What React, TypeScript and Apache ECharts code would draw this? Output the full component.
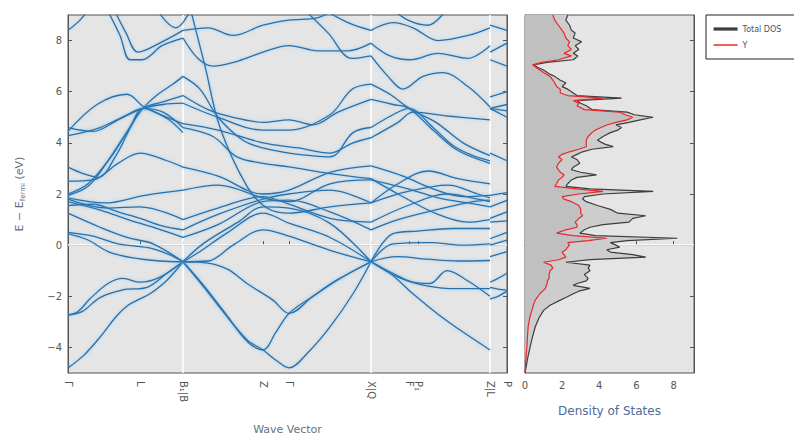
import React, { useEffect, useRef } from "react";
import * as echarts from "echarts";

// k-path positions (distance along path) and labels
const kTicks = [0, 72, 115, 195, 221, 303, 341, 350, 422, 439];
const kLabels = ["Γ", "L", "B₁|B", "Z", "Γ", "X|Q", "F", "P₁", "Z|L", "P"];
const breakK = [115, 303, 422];
const energyTicks = [-4, -2, 0, 2, 4, 6, 8];
const dosTicks = [0, 2, 4, 6, 8];

// Bands, segment Γ–L–B1
const bandsA: number[][][] = [
  [[0, -4.8], [16, -4.3], [32, -3.6], [48, -2.8], [60, -2.35], [72, -2.1], [82, -1.9], [99, -1.37], [115, -0.65]],
  [[0, -2.75], [10, -2.6], [22, -2.1], [40, -1.5], [55, -1.3], [72, -1.45], [92, -1.25], [115, -0.65]],
  [[0, -2.72], [14, -2.6], [32, -2.05], [55, -1.75], [79, -1.65], [99, -1.1], [115, -0.65]],
  [[0, 0.45], [20, 0.2], [40, -0.25], [65, -0.5], [92, -0.62], [115, -0.65]],
  [[0, 0.5], [25, 0.35], [50, 0.05], [80, -0.1], [100, -0.35], [115, -0.65]],
  [[0, 1.25], [32, 0.7], [59, 0.3], [85, 0.05], [115, -0.65]],
  [[0, 1.55], [25, 1.6], [50, 1.3], [72, 1.05], [94, 0.75], [115, 0.6]],
  [[0, 1.7], [34, 1.35], [60, 1.0], [85, 0.7], [115, 0.3]],
  [[0, 1.85], [37, 1.65], [77, 1.95], [115, 2.15]],
  [[0, 1.95], [20, 2.3], [40, 3.3], [60, 4.5], [75, 5.35], [90, 5.9], [105, 6.3], [115, 6.6]],
  [[0, 2.0], [20, 2.4], [42, 3.4], [62, 4.6], [75, 5.35], [95, 5.2], [115, 4.6]],
  [[0, 3.05], [15, 2.8], [30, 2.65], [48, 3.5], [65, 4.8], [75, 5.35], [95, 5.6], [115, 5.85]],
  [[0, 4.28], [32, 4.6], [59, 5.1], [75, 5.35], [99, 4.95], [115, 4.4]],
  [[0, 4.45], [29, 5.5], [59, 5.9], [76, 5.4], [99, 5.0], [115, 4.75]],
  [[0, 4.6], [25, 4.45], [50, 4.9], [75, 5.35], [95, 5.5], [115, 5.55]],
  [[0, 2.5], [25, 2.55], [50, 3.2], [72, 3.6], [99, 3.3], [115, 3.05]],
  [[0, 8.4], [12, 8.8], [22, 9.3]],
  [[38, 9.3], [52, 8.2], [62, 7.25], [74, 7.25], [94, 7.8], [115, 8.1]],
  [[45, 9.3], [58, 8.3], [70, 7.55], [94, 7.95], [115, 8.4]],
  [[88, 9.3], [98, 8.75], [108, 8.5], [115, 8.7]],
  [[0, 1.8], [40, 1.45], [72, 1.5], [115, 1.0]],
];

// Bands, segment B–Z–Γ–X
const bandsB: number[][][] = [
  [[115, -0.65], [135, -1.6], [155, -2.6], [179, -3.7], [195, -4.1], [208, -4.5], [221, -4.8], [240, -4.2], [262, -3.2], [285, -1.9], [303, -0.65]],
  [[115, -0.65], [135, -1.55], [157, -2.65], [180, -3.8], [195, -4.1], [208, -3.4], [221, -2.67], [245, -2.0], [269, -1.37], [303, -0.65]],
  [[115, -0.65], [140, -0.7], [160, -0.95], [179, -1.5], [205, -2.15], [221, -2.67], [245, -2.0], [269, -1.37], [303, -0.65]],
  [[115, -0.65], [140, -0.62], [165, 0.0], [195, 0.6], [221, 0.35], [262, -0.2], [303, -0.65]],
  [[115, -0.65], [130, -0.3], [160, 0.5], [195, 1.25], [221, 0.86], [262, 0.3], [303, -0.65]],
  [[115, -0.65], [135, 0.05], [170, 0.9], [195, 1.5], [221, 1.45], [262, 0.85], [303, -0.65]],
  [[115, 0.3], [150, 0.8], [195, 1.7], [221, 1.76], [262, 1.3], [303, 0.6]],
  [[115, 0.6], [150, 1.2], [195, 1.8], [221, 2.0], [262, 2.15], [303, 1.65]],
  [[115, 1.0], [150, 1.45], [195, 1.9], [221, 1.6], [262, 1.05], [303, 0.9]],
  [[115, 2.15], [150, 2.35], [195, 1.85], [221, 1.7], [262, 2.4], [303, 2.55]],
  [[115, 3.05], [150, 2.7], [195, 2.0], [221, 2.15], [262, 2.85], [303, 3.1]],
  [[115, 4.6], [145, 4.25], [169, 3.45], [195, 3.2], [221, 3.06], [262, 2.8], [303, 2.6]],
  [[115, 5.55], [150, 5.0], [195, 4.5], [221, 4.5], [262, 5.1], [284, 6.1], [303, 6.3]],
  [[122, 9.3], [137, 7.0], [152, 4.6], [179, 2.3], [199, 1.45], [221, 1.25], [262, 1.5], [303, 1.65]],
  [[115, 6.6], [132, 6.1], [150, 5.0], [175, 4.1], [195, 3.8], [221, 3.6], [262, 3.45], [285, 4.4], [303, 4.6]],
  [[115, 5.85], [140, 5.3], [165, 5.0], [195, 4.8], [221, 4.9], [245, 4.7], [270, 5.2], [303, 5.7]],
  [[115, 8.1], [130, 7.3], [145, 7.0], [170, 7.2], [195, 7.55], [221, 7.8], [250, 7.6], [280, 7.6], [303, 7.9]],
  [[115, 8.4], [140, 8.5], [165, 8.2], [195, 8.6], [221, 8.8], [250, 8.9], [270, 9.3]],
  [[234, 9.3], [260, 8.3], [284, 7.3], [303, 7.4]],
  [[252, 9.3], [280, 8.7], [303, 8.4]],
  [[115, 8.7], [125, 9.3]],
  [[115, 4.75], [150, 4.5], [195, 4.0], [230, 3.8], [262, 3.6], [285, 4.0], [303, 4.2]],
];

// Bands, segment Q–F–P1–Z
const bandsC: number[][][] = [
  [[303, -0.65], [322, -1.1], [345, -1.9], [370, -2.7], [395, -3.4], [422, -4.1]],
  [[303, -0.65], [325, -1.1], [345, -1.45], [362, -1.5], [379, -1.0], [400, -1.4], [422, -2.0]],
  [[303, -0.65], [330, -1.25], [360, -1.6], [390, -1.7], [422, -1.7]],
  [[303, -0.65], [329, -0.45], [360, -0.55], [390, -0.62], [422, -0.6]],
  [[303, -0.65], [325, 0.05], [362, 0.1], [395, 0.0], [422, 0.05]],
  [[303, -0.65], [325, 0.45], [350, 0.55], [385, 0.65], [422, 0.65]],
  [[303, 0.6], [330, 1.0], [370, 1.4], [405, 1.7], [422, 1.76]],
  [[303, 0.9], [340, 1.55], [380, 2.0], [410, 1.8], [422, 1.7]],
  [[303, 1.65], [340, 2.1], [380, 2.35], [410, 2.0], [422, 1.85]],
  [[303, 2.55], [340, 2.2], [370, 1.85], [400, 1.65], [422, 1.5]],
  [[303, 3.1], [335, 2.7], [365, 2.2], [395, 1.9], [422, 1.95]],
  [[303, 2.6], [330, 2.0], [370, 1.2], [400, 0.9], [422, 1.0]],
  [[303, 4.6], [325, 5.1], [341, 5.35], [365, 4.6], [385, 3.9], [405, 3.5], [422, 3.3]],
  [[303, 5.7], [325, 5.5], [341, 5.35], [365, 4.5], [390, 3.7], [422, 3.2]],
  [[303, 6.3], [322, 5.9], [341, 5.35], [368, 4.8], [395, 4.0], [422, 3.5]],
  [[303, 4.2], [330, 4.8], [345, 5.2], [380, 5.05], [422, 4.9]],
  [[303, 7.4], [320, 6.6], [335, 6.1], [355, 6.6], [375, 6.75], [400, 6.2], [422, 5.4]],
  [[303, 7.9], [322, 7.4], [342, 7.25], [370, 7.5], [400, 7.3], [422, 7.8]],
  [[303, 8.4], [325, 8.7], [345, 8.5], [370, 8.0], [400, 8.2], [422, 8.5]],
  [[303, 1.65], [330, 2.4], [360, 2.9], [390, 2.6], [422, 2.4]],
  [[322, 9.3], [340, 8.8], [360, 8.6], [380, 9.3]],
];

// Bands, segment L–P
const bandsD: number[][][] = [
  [[422, -2.1], [430, -2.0], [439, -1.8]],
  [[422, -1.45], [430, -1.3], [439, -1.1]],
  [[422, -1.65], [430, -1.72], [439, -1.76]],
  [[422, -0.45], [439, -0.25]],
  [[422, 0.0], [439, 0.2]],
  [[422, 0.25], [439, 0.5]],
  [[422, 0.9], [439, 0.95]],
  [[422, 1.05], [439, 1.3]],
  [[422, 1.5], [439, 1.75]],
  [[422, 1.95], [439, 2.05]],
  [[422, 3.6], [439, 3.3]],
  [[422, 5.35], [439, 5.25]],
  [[422, 5.35], [439, 5.5]],
  [[422, 5.35], [439, 5.0]],
  [[422, 5.8], [439, 6.0]],
  [[422, 7.25], [439, 7.0]],
  [[422, 7.55], [439, 7.9]],
  [[422, 8.6], [439, 8.4]],
];

// Density of states
const dosEnergy = [
  9.0, 8.8, 8.6, 8.4, 8.3, 8.1, 7.95, 7.8, 7.65, 7.5,
  7.4, 7.25, 7.15, 7.05, 6.95, 6.85, 6.7, 6.6, 6.45, 6.35,
  6.2, 6.1, 5.95, 5.85, 5.75, 5.65, 5.55, 5.45, 5.3, 5.2,
  5.1, 5.0, 4.9, 4.8, 4.7, 4.6, 4.5, 4.4, 4.25, 4.1,
  3.95, 3.85, 3.75, 3.65, 3.55, 3.45, 3.35, 3.2, 3.05, 2.95,
  2.85, 2.75, 2.65, 2.55, 2.4, 2.3, 2.2, 2.1, 2.0, 1.9,
  1.8, 1.7, 1.55, 1.4, 1.25, 1.15, 1.05, 0.9, 0.8, 0.7,
  0.6, 0.47, 0.37, 0.27, 0.18, 0.1, 0.0, -0.08, -0.18, -0.27,
  -0.37, -0.47, -0.57, -0.67, -0.78, -0.9, -1.0, -1.15, -1.3, -1.4,
  -1.5, -1.57, -1.69, -1.8, -1.9, -2.05, -2.15, -2.35, -2.55, -2.85,
  -3.2, -3.6, -4.0, -4.4, -4.8, -5.0,
];
const dosTotal = [
  2.3, 2.2, 2.4, 2.5, 2.7, 2.6, 3.05, 2.7, 2.9, 2.6,
  2.85, 2.6, 1.2, 0.45, 0.7, 1.0, 1.3, 1.6, 1.9, 2.2,
  2.0, 2.3, 2.6, 2.8, 5.2, 2.8, 3.0, 3.3, 3.6, 5.5,
  5.9, 6.9, 6.2, 5.6, 4.9, 5.2, 5.0, 4.6, 4.2, 3.9,
  4.3, 4.75, 3.6, 3.1, 2.8, 2.5, 2.8, 2.95, 2.6, 2.5,
  3.0, 3.85, 2.8, 2.5, 2.3, 2.2, 3.5, 6.9, 4.2, 3.2,
  3.1, 3.3, 3.9, 4.6, 5.0, 6.5, 5.8, 5.6, 4.2, 3.5,
  3.2, 2.95, 3.8, 8.2, 5.5, 4.6, 4.9, 5.1, 4.4, 4.6,
  5.8, 6.5, 3.5, 2.2, 3.5, 3.4, 3.5, 3.2, 3.4, 3.3,
  2.8, 2.6, 3.5, 2.9, 2.6, 2.2, 1.9, 1.35, 1.0, 0.75,
  0.55, 0.4, 0.27, 0.15, 0.05, 0.0,
];
const dosY = [
  1.5, 1.6, 1.8, 2.0, 2.1, 2.2, 2.4, 2.3, 2.5, 2.1,
  2.5, 1.8, 0.9, 0.4, 0.6, 0.8, 1.1, 1.35, 1.5, 1.6,
  1.7, 1.9, 1.9, 2.3, 4.2, 2.6, 2.9, 2.8, 3.2, 5.1,
  5.4, 5.8, 5.5, 4.9, 4.4, 4.1, 3.8, 3.6, 3.4, 3.3,
  3.3, 3.3, 2.9, 2.4, 2.0, 1.8, 2.0, 1.8, 1.7, 1.8,
  1.9, 2.1, 2.0, 1.8, 1.7, 1.6, 2.8, 4.2, 2.9, 2.0,
  2.1, 2.5, 2.9, 3.0, 3.0, 3.1, 2.9, 2.7, 2.8, 2.8,
  2.2, 1.7, 2.6, 4.4, 3.4, 2.3, 2.4, 2.3, 2.2, 2.0,
  2.1, 2.2, 1.8, 1.0, 1.4, 1.5, 1.35, 1.3, 1.3, 1.2,
  1.2, 1.15, 1.1, 0.95, 0.8, 0.65, 0.55, 0.45, 0.37, 0.25,
  0.17, 0.13, 0.1, 0.05, 0.02, 0.0,
];

const FONT = "DejaVu Sans";
const AXIS_COLOR = "#555555";
const BAND_COLOR = "#286fab";

function fillSeries(vals: number[], color: string) {
  return {
    type: "custom",
    xAxisIndex: 1,
    yAxisIndex: 2,
    data: [[0, 0]],
    silent: true,
    clip: true,
    z: 2,
    renderItem: (_params: any, api: any) => {
      const pts: number[][] = [api.coord([0, dosEnergy[0]])];
      dosEnergy.forEach((e, i) => pts.push(api.coord([vals[i], e])));
      pts.push(api.coord([0, dosEnergy[dosEnergy.length - 1]]));
      return { type: "polygon", shape: { points: pts }, style: { fill: color } };
    },
  };
}

export default function App() {
  const ref = useRef<HTMLDivElement>(null);
  useEffect(() => {
    if (!ref.current) return;
    const chart = echarts.init(ref.current, undefined, { renderer: "svg" });
    const allBands = [...bandsA, ...bandsB, ...bandsC, ...bandsD];
    const bandSeries = allBands.map((pts, i) => ({
      type: "line",
      name: "band" + i,
      xAxisIndex: 0,
      yAxisIndex: 0,
      data: pts,
      smooth: 0.35,
      symbol: "none",
      showSymbol: false,
      silent: true,
      z: 3,
      lineStyle: {
        color: BAND_COLOR,
        width: 1.3,
        shadowBlur: 3,
        shadowColor: "rgba(90,175,235,0.55)",
      },
    }));
    const guide = {
      type: "line",
      name: "guide",
      xAxisIndex: 0,
      yAxisIndex: 0,
      data: [[-10, -10]],
      symbol: "none",
      silent: true,
      z: 1,
      lineStyle: { width: 0 },
      markLine: {
        silent: true,
        symbol: "none",
        z: 1,
        label: { show: false },
        lineStyle: { color: "#ffffff", width: 1.6, type: "solid" },
        data: [...breakK.map((k) => ({ xAxis: k })), { yAxis: 0 }],
      },
    };
    const dosGuide = {
      type: "line",
      name: "dosguide",
      xAxisIndex: 1,
      yAxisIndex: 2,
      data: [[-10, -10]],
      symbol: "none",
      silent: true,
      z: 1,
      lineStyle: { width: 0 },
      markLine: {
        silent: true,
        symbol: "none",
        z: 1,
        label: { show: false },
        lineStyle: { color: "#ffffff", width: 1.6, type: "solid" },
        data: [{ yAxis: 0 }],
      },
    };
    const tickStyle = { inside: true, length: 4, lineStyle: { color: AXIS_COLOR } };
    const yBase = {
      type: "value",
      min: -5,
      max: 9,
      splitLine: { show: false },
      axisLine: { show: true, lineStyle: { color: AXIS_COLOR } },
    };
    const option: any = {
      animation: false,
      textStyle: { fontFamily: FONT },
      grid: [
        { left: 68, top: 15, width: 439, height: 358, outerBoundsMode: "none", containLabel: false, show: true, backgroundColor: "#e5e5e5", borderColor: AXIS_COLOR, borderWidth: 1 },
        { left: 525, top: 15, width: 169, height: 358, outerBoundsMode: "none", containLabel: false, show: true, backgroundColor: "#e5e5e5", borderColor: AXIS_COLOR, borderWidth: 1 },
      ],
      legend: {
        data: [
          { name: "Total DOS", lineStyle: { width: 3.2 }, itemStyle: { opacity: 0 } },
          { name: "Y", lineStyle: { width: 1.5 }, itemStyle: { opacity: 0 } },
        ],
        orient: "vertical",
        left: 706,
        top: 15,
        itemWidth: 24,
        itemHeight: 8,
        itemGap: 8,
        padding: [10, 20, 10, 6],
        borderColor: "#222",
        borderWidth: 1,
        borderRadius: 0,
        backgroundColor: "#ffffff",
        textStyle: { fontSize: 8, color: "#445566", fontFamily: FONT },
      },
      xAxis: [
        {
          type: "value",
          gridIndex: 0,
          min: 0,
          max: 439,
          splitLine: { show: false },
          axisLine: { show: true, lineStyle: { color: AXIS_COLOR } },
          axisTick: { ...tickStyle, customValues: kTicks },
          axisLabel: {
            customValues: kTicks,
            rotate: -90,
            fontSize: 10,
            color: AXIS_COLOR,
            margin: 8,
            formatter: (v: number) => {
              const i = kTicks.indexOf(v);
              return i >= 0 ? kLabels[i] : "";
            },
          },
          name: "Wave Vector",
          nameLocation: "middle",
          nameGap: 51,
          nameTextStyle: { fontSize: 11, color: "#667080" },
        },
        {
          type: "value",
          gridIndex: 1,
          min: 0,
          max: 9.1,
          splitLine: { show: false },
          axisLine: { show: true, lineStyle: { color: AXIS_COLOR } },
          axisTick: { ...tickStyle, customValues: dosTicks },
          axisLabel: { customValues: dosTicks, fontSize: 10, color: AXIS_COLOR, margin: 7 },
          name: "Density of States",
          nameLocation: "middle",
          nameGap: 32,
          nameTextStyle: { fontSize: 12, color: "#4e6b99" },
        },
      ],
      yAxis: [
        {
          ...yBase,
          gridIndex: 0,
          position: "left",
          axisTick: { ...tickStyle, customValues: energyTicks },
          axisLabel: {
            customValues: energyTicks,
            fontSize: 10,
            color: AXIS_COLOR,
            margin: 6,
            formatter: (v: number) => (v < 0 ? "−" + Math.abs(v) : String(v)),
          },
          name: "{n|E − E}{s|fermi}{n| (eV)}",
          nameLocation: "middle",
          nameGap: 42,
          nameRotate: 90,
          nameTextStyle: {
            rich: {
              n: { fontSize: 11, color: "#667080", lineHeight: 14, fontFamily: FONT },
              s: { fontSize: 7, color: "#667080", lineHeight: 14, verticalAlign: "bottom", padding: [4, 0, 0, 0], fontFamily: FONT },
            },
          },
        },
        {
          ...yBase,
          gridIndex: 0,
          position: "right",
          axisTick: { ...tickStyle, customValues: energyTicks },
          axisLabel: { show: false },
        },
        {
          ...yBase,
          gridIndex: 1,
          position: "left",
          axisTick: { ...tickStyle, customValues: energyTicks },
          axisLabel: { show: false },
        },
        {
          ...yBase,
          gridIndex: 1,
          position: "right",
          axisTick: { ...tickStyle, customValues: energyTicks },
          axisLabel: { show: false },
        },
      ],
      series: [
        guide,
        ...bandSeries,
        dosGuide,
        fillSeries(dosTotal, "#cdcdcd"),
        fillSeries(dosY, "#c0c0c0"),
        {
          type: "line",
          name: "Total DOS",
          xAxisIndex: 1,
          yAxisIndex: 2,
          data: dosEnergy.map((e, i) => [dosTotal[i], e]),
          symbol: "none",
          showSymbol: false,
          silent: true,
          z: 4,
          color: "#3d3d3d",
          lineStyle: { color: "#3d3d3d", width: 1.2 },
        },
        {
          type: "line",
          name: "Y",
          xAxisIndex: 1,
          yAxisIndex: 2,
          data: dosEnergy.map((e, i) => [dosY[i], e]),
          symbol: "none",
          showSymbol: false,
          silent: true,
          z: 5,
          color: "#e8282b",
          lineStyle: { color: "#e8282b", width: 1.2 },
        },
      ],
    };
    chart.setOption(option);
    return () => chart.dispose();
  }, []);
  return (
    <div
      ref={ref}
      style={{ position: "fixed", left: 0, top: 0, width: 794, height: 436, background: "#ffffff" }}
    />
  );
}
